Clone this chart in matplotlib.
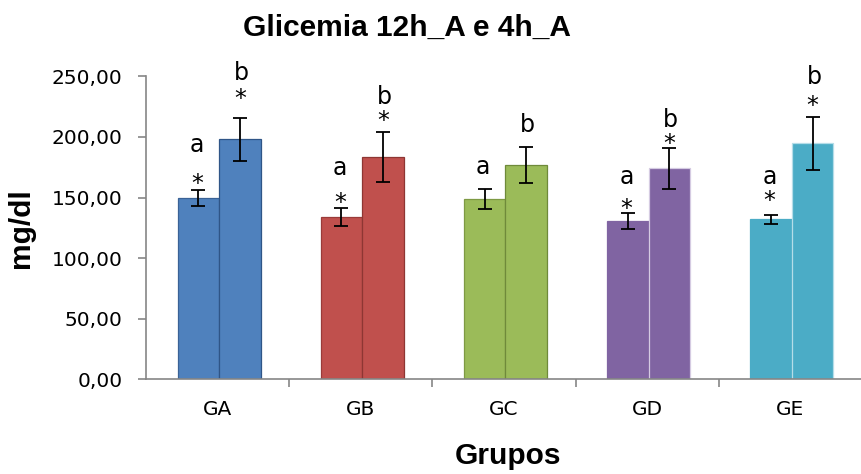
import numpy as np
import matplotlib.pyplot as plt

# Glicemia 12h_A e 4h_A - mean +/- error per group
grupos = ['GA', 'GB', 'GC', 'GD', 'GE']
glic_12h = [149.6, 134.2, 148.8, 130.4, 132.0]
glic_4h = [198.0, 183.7, 176.8, 174.1, 194.7]
err_12h = [6.5, 7.5, 8.0, 6.5, 3.5]
err_4h = [17.5, 20.5, 15.0, 17.0, 22.0]

# significance marks (letter, asterisk) for each bar
letras_12h = ['a', 'a', 'a', 'a', 'a']
letras_4h = ['b', 'b', 'b', 'b', 'b']
ast_12h = [True, True, False, True, True]
ast_4h = [True, True, False, True, True]

# heights where the marks were placed (data units)
letra_y_12h = [193.3, 174.3, 175.4, 166.9, 166.9]
letra_y_4h = [252.7, 233.2, 209.8, 213.9, 249.7]
ast_y_12h = [161.0, 145.5, None, 140.5, 147.0]
ast_y_4h = [231.0, 213.0, None, 194.0, 225.5]

cores = ['#4F81BD', '#C0504D', '#9BBB59', '#8064A2', '#4BACC6']
bordas_12h = ['#3A6296', '#9A3B39', '#7E9A44', '#8064A2', '#4BACC6']
bordas_4h = ['#2F5587', '#8E3633', '#6F8A3A', '#D5CBE2', '#B5DDE8']

fig = plt.figure(figsize=(8.62, 4.74), dpi=100)
ax = fig.add_axes([146 / 862, 0.1998, 716 / 862, 0.6392])

x = np.arange(len(grupos))
w = 0.29
ax.bar(x - w / 2 + 0.01, glic_12h, w, color=cores, edgecolor=bordas_12h, linewidth=0.9, zorder=2)
ax.bar(x + w / 2 + 0.01, glic_4h, w, color=cores, edgecolor=bordas_4h, linewidth=0.9, zorder=2)
ax.errorbar(x - w / 2 + 0.01, glic_12h, yerr=err_12h, fmt='none', ecolor='black',
            elinewidth=1.3, capsize=5, capthick=1.3, zorder=3)
ax.errorbar(x + w / 2 + 0.01, glic_4h, yerr=err_4h, fmt='none', ecolor='black',
            elinewidth=1.3, capsize=5, capthick=1.3, zorder=3)

for i in range(len(grupos)):
    ax.text(x[i] - w / 2, letra_y_12h[i], letras_12h[i], ha='center', va='center',
            fontsize=17, clip_on=False)
    ax.text(x[i] + w / 2 + 0.02, letra_y_4h[i], letras_4h[i], ha='center', va='center',
            fontsize=17, clip_on=False)
    if ast_12h[i]:
        ax.text(x[i] - w / 2, ast_y_12h[i], '*', ha='center', va='center',
                fontsize=17, clip_on=False)
    if ast_4h[i]:
        ax.text(x[i] + w / 2 + 0.01, ast_y_4h[i], '*', ha='center', va='center',
                fontsize=17, clip_on=False)

ax.set_xlim(-0.5, len(grupos) - 0.5)
ax.set_ylim(0, 250)
ax.set_yticks(np.arange(0, 251, 50))
ax.set_yticklabels([f'{v:.2f}'.replace('.', ',') for v in np.arange(0, 251, 50)])

# category ticks on boundaries, labels at centers
ax.set_xticks(np.arange(0.5, len(grupos) - 0.5, 1))
ax.set_xticklabels([])
ax.set_xticks(x, minor=True)
ax.set_xticklabels(grupos, minor=True)
ax.tick_params(axis='x', which='major', length=5.5, width=1.2, color='#868686', direction='out')
ax.tick_params(axis='x', which='minor', length=0, pad=15, labelsize=14.5)
ax.tick_params(axis='y', length=6, width=1.2, color='#868686', pad=11, labelsize=14.5)

for s in ['top', 'right']:
    ax.spines[s].set_visible(False)
for s in ['left', 'bottom']:
    ax.spines[s].set_color('#868686')
    ax.spines[s].set_linewidth(1.2)

fig.text(407 / 862, 0.9247, 'Glicemia 12h_A e 4h_A', ha='center', va='baseline',
         fontsize=21.5, fontweight='bold', family='Liberation Sans')
fig.text(508 / 862, 0.0205, 'Grupos', ha='center', va='baseline',
         fontsize=21.5, fontweight='bold', family='Liberation Sans')
fig.text(21 / 862, 0.519, 'mg/dl', ha='center', va='center', rotation=90,
         fontsize=21.5, fontweight='bold', family='Liberation Sans')

fig.savefig('out.png', dpi=100)
